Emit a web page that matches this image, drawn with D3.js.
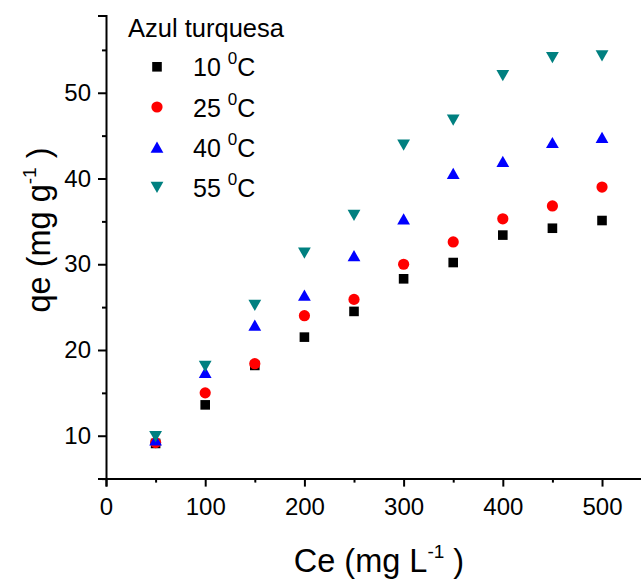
<!DOCTYPE html>
<html>
<head>
<meta charset="utf-8">
<script src="https://cdn.jsdelivr.net/npm/d3@7"></script>
<style>
  html, body { margin: 0; padding: 0; background: #fff; }
  svg { display: block; font-family: "Liberation Sans", Arial, sans-serif; }
</style>
</head>
<body>
<svg id="chart" width="641" height="581"></svg>
<script>
// Equilibrium concentration Ce (mg/L)
const ce = [50, 100, 150, 200, 250, 300, 350, 400, 450, 500];

// Adsorbed amount qe (mg/g) at each temperature
const q10 = [9.1, 13.6, 18.2, 21.5, 24.5, 28.3, 30.2, 33.4, 34.2, 35.1];
const q25 = [9.2, 15.0, 18.4, 24.0, 25.9, 30.0, 32.6, 35.3, 36.8, 39.0];
const q40 = [9.5, 17.4, 22.9, 26.4, 31.0, 35.3, 40.6, 42.0, 44.2, 44.8];
const q55 = [9.9, 18.1, 25.2, 31.3, 35.7, 43.9, 46.8, 52.0, 54.1, 54.3];

const seriesNames = ["10", "25", "40", "55"];
const seriesColors = ["#000000", "#ff0000", "#0000ff", "#008080"];
const seriesShapes = ["square", "circle", "triUp", "triDown"];
const seriesValues = [q10, q25, q40, q55];

const xTicks = [0, 100, 200, 300, 400, 500];
const yTicks = [10, 20, 30, 40, 50];
const legendTitle = "Azul turquesa";

const svg = d3.select("#chart");

const x = d3.scaleLinear().domain([0, 540]).range([106, 641.7]);
const y = d3.scaleLinear().domain([5, 59]).range([478.6, 15.6]);

// Marker path builders, centred on (0,0)
function markerPath(shape) {
  const p = d3.path();
  if (shape === "square") {
    const h = 4.8;
    p.rect(-h, -h, 2 * h, 2 * h);
  } else if (shape === "circle") {
    p.arc(0, 0, 5.6, 0, 2 * Math.PI);
  } else if (shape === "triUp") {
    p.moveTo(0, -5.6); p.lineTo(6.4, 5.6); p.lineTo(-6.4, 5.6); p.closePath();
  } else {
    p.moveTo(0, 5.6); p.lineTo(6.4, -5.6); p.lineTo(-6.4, -5.6); p.closePath();
  }
  return p.toString();
}

// Axes
const axisColor = "#000";
const xMinor = d3.range(50, 540, 50).filter(v => v % 100 !== 0);
const yMinor = d3.range(5, 59, 5).filter(v => v % 10 !== 0);

const gx = svg.append("g").attr("transform", `translate(0,${y(5)})`);
gx.call(d3.axisBottom(x).tickValues(xTicks).tickSize(8).tickPadding(11).tickFormat(d3.format("d")));
const gxm = svg.append("g").attr("transform", `translate(0,${y(5)})`);
gxm.call(d3.axisBottom(x).tickValues(xMinor).tickSize(4).tickFormat(""));
gxm.select(".domain").remove();

const gy = svg.append("g").attr("transform", `translate(${x(0)},0)`);
gy.call(d3.axisLeft(y).tickValues(yTicks).tickSize(8).tickPadding(7).tickFormat(d3.format("d")));
const gym = svg.append("g").attr("transform", `translate(${x(0)},0)`);
gym.call(d3.axisLeft(y).tickValues(yMinor).tickSize(4).tickFormat(""));
gym.select(".domain").remove();

svg.selectAll(".domain").attr("stroke", axisColor).attr("stroke-width", 2);
svg.selectAll(".tick line").attr("stroke", axisColor).attr("stroke-width", 2);
svg.selectAll(".tick text")
  .attr("fill", "#000")
  .style("font-size", "24px")
  .style("font-family", "'Liberation Sans', Arial, sans-serif");

// Data points
seriesValues.forEach((vals, i) => {
  svg.append("g")
    .selectAll("path")
    .data(vals.map((v, j) => ({ c: ce[j], q: v })))
    .join("path")
    .attr("d", markerPath(seriesShapes[i]))
    .attr("transform", d => `translate(${x(d.c)},${y(d.q)})`)
    .attr("fill", seriesColors[i]);
});

// Legend
const lg = svg.append("g");
lg.append("text")
  .attr("x", 128).attr("y", 37)
  .style("font-size", "25.5px")
  .attr("fill", "#000")
  .text(legendTitle);

seriesNames.forEach((name, i) => {
  const ry = 66.8 + i * 40.2;
  lg.append("path")
    .attr("d", markerPath(seriesShapes[i]))
    .attr("transform", `translate(157,${ry})`)
    .attr("fill", seriesColors[i]);
  const t = lg.append("text")
    .attr("x", 193).attr("y", ry + 9.5)
    .style("font-size", "25px")
    .attr("fill", "#000");
  t.append("tspan").text(name + " ");
  t.append("tspan").attr("dy", -12).style("font-size", "17px").text("0");
  t.append("tspan").attr("dy", 12).text("C");
});

// Axis titles
const xt = svg.append("text")
  .attr("x", 379).attr("y", 572)
  .attr("text-anchor", "middle")
  .style("font-size", "32.5px")
  .attr("fill", "#000");
xt.append("tspan").text("Ce (mg L");
xt.append("tspan").attr("dy", -14).style("font-size", "19px").text("-1");
xt.append("tspan").attr("dy", 14).text(" )");

const yt = svg.append("text")
  .attr("transform", "translate(50,230) rotate(-90)")
  .attr("text-anchor", "middle")
  .style("font-size", "32.5px")
  .attr("fill", "#000");
yt.append("tspan").text("qe (mg g");
yt.append("tspan").attr("dy", -14).style("font-size", "19px").text("-1");
yt.append("tspan").attr("dy", 14).text(" )");
</script>
</body>
</html>
